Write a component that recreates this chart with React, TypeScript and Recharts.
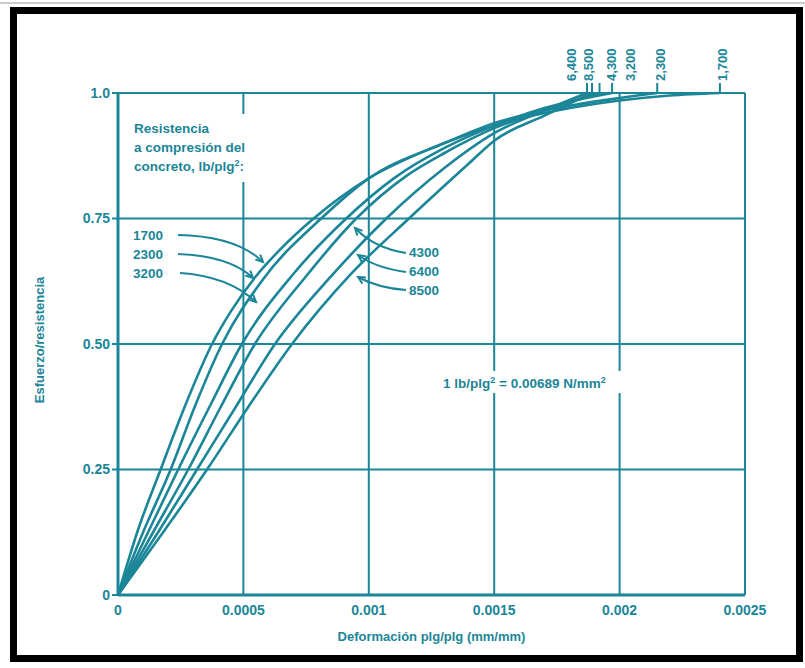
import React from 'react';
import { LineChart, Line, XAxis, YAxis, CartesianGrid, ReferenceLine } from 'recharts';

// ---- data ----
const strengths = ['1700', '2300', '3200', '4300', '6400', '8500'];
const peakLabels = ['1,700', '2,300', '3,200', '4,300', '6,400', '8,500'];

const strain1700 = [0, 0.00008, 0.00017, 0.00027, 0.000375, 0.00045, 0.00055, 0.00065, 0.00078, 0.001, 0.00125, 0.0015, 0.00175, 0.002, 0.0022, 0.0024];
const ratio1700 = [0, 0.13, 0.25, 0.38, 0.5, 0.565, 0.635, 0.69, 0.75, 0.83, 0.89, 0.935, 0.965, 0.985, 0.995, 1.0];

const strain2300 = [0, 0.0001, 0.00021, 0.00031, 0.000415, 0.00058, 0.00081, 0.001, 0.0013, 0.0015, 0.00175, 0.002, 0.00215];
const ratio2300 = [0, 0.125, 0.25, 0.38, 0.5, 0.63, 0.75, 0.83, 0.9, 0.94, 0.97, 0.99, 1.0];

const strain3200 = [0, 0.00012, 0.00024, 0.00037, 0.000494, 0.0007, 0.00091, 0.0011, 0.0013, 0.0015, 0.0017, 0.00197];
const ratio3200 = [0, 0.125, 0.25, 0.38, 0.5, 0.64, 0.75, 0.83, 0.89, 0.935, 0.97, 1.0];

const strain4300 = [0, 0.00014, 0.00028, 0.00041, 0.000546, 0.00075, 0.00095, 0.00115, 0.0013, 0.0015, 0.0017, 0.00192];
const ratio4300 = [0, 0.125, 0.25, 0.375, 0.5, 0.635, 0.75, 0.835, 0.88, 0.93, 0.965, 1.0];

const strain6400 = [0, 0.00016, 0.000315, 0.00047, 0.000626, 0.00085, 0.00107, 0.0013, 0.0015, 0.0017, 0.00187];
const ratio6400 = [0, 0.125, 0.25, 0.375, 0.5, 0.635, 0.75, 0.85, 0.92, 0.965, 1.0];

const strain8500 = [0, 0.00018, 0.000355, 0.00052, 0.000694, 0.00093, 0.00116, 0.0014, 0.0015, 0.0017, 0.00189];
const ratio8500 = [0, 0.125, 0.25, 0.375, 0.5, 0.64, 0.75, 0.86, 0.905, 0.955, 1.0];

const strainSeries = [strain1700, strain2300, strain3200, strain4300, strain6400, strain8500];
const ratioSeries = [ratio1700, ratio2300, ratio3200, ratio4300, ratio6400, ratio8500];

const xTicks = [0, 0.0005, 0.001, 0.0015, 0.002, 0.0025];
const xTickLabels = ['0', '0.0005', '0.001', '0.0015', '0.002', '0.0025'];
const yTicks = [0, 0.25, 0.5, 0.75, 1.0];
const yTickLabels = ['0', '0.25', '0.50', '0.75', '1.0'];

// ---- style ----
const C = '#1b8698';
const FONT = "'Liberation Sans', Arial, sans-serif";
const peakLabelDx = [2, 3, 18, 11, -16, -4];

const series = strengths.map((s, i) => ({
  name: s,
  data: strainSeries[i].map((x, j) => ({ x, y: ratioSeries[i][j] })),
  peak: strainSeries[i][strainSeries[i].length - 1],
}));

const fmtX = (v: number) => {
  const i = xTicks.findIndex((t) => Math.abs(t - v) < 1e-9);
  return i >= 0 ? xTickLabels[i] : String(v);
};
const fmtY = (v: number) => {
  const i = yTicks.findIndex((t) => Math.abs(t - v) < 1e-9);
  return i >= 0 ? yTickLabels[i] : String(v);
};

function Arrow({ d, hx, hy, ang }: { d: string; hx: number; hy: number; ang: number }) {
  const a = (ang * Math.PI) / 180;
  const L = 8;
  const p1x = hx - L * Math.cos(a - 0.45);
  const p1y = hy - L * Math.sin(a - 0.45);
  const p2x = hx - L * Math.cos(a + 0.45);
  const p2y = hy - L * Math.sin(a + 0.45);
  return (
    <g>
      <path d={d} fill="none" stroke={C} strokeWidth={2} />
      <polyline points={`${p1x},${p1y} ${hx},${hy} ${p2x},${p2y}`} fill="none" stroke={C} strokeWidth={2} />
    </g>
  );
}

export default function App() {
  return (
    <div style={{ position: 'absolute', left: 0, top: 0, width: 805, height: 668, background: '#fff', overflow: 'hidden' }}>
      <LineChart width={805} height={668} margin={{ top: 93, right: 60, bottom: 23, left: 58 }}>
        <CartesianGrid stroke={C} strokeWidth={2} />
        <XAxis
          type="number"
          dataKey="x"
          domain={[0, 0.0025]}
          ticks={xTicks}
          tickFormatter={fmtX}
          tickLine={false}
          tickMargin={4}
          height={50}
          axisLine={{ stroke: C, strokeWidth: 3 }}
          tick={{ fill: C, fontSize: 14, fontWeight: 700, fontFamily: FONT }}
          label={{ value: 'Deformación plg/plg (mm/mm)', position: 'insideBottom', offset: 4, fill: C, fontSize: 13, fontWeight: 700, fontFamily: FONT }}
        />
        <YAxis
          type="number"
          dataKey="y"
          domain={[0, 1]}
          ticks={yTicks}
          tickFormatter={fmtY}
          width={60}
          tickSize={6}
          tickMargin={2}
          axisLine={{ stroke: C, strokeWidth: 3 }}
          tickLine={{ stroke: C, strokeWidth: 2 }}
          tick={{ fill: C, fontSize: 14, fontWeight: 700, fontFamily: FONT }}
        />
        {series.map((s) => (
          <Line
            key={s.name}
            data={s.data}
            dataKey="y"
            type="monotone"
            stroke={C}
            strokeWidth={2.6}
            dot={false}
            isAnimationActive={false}
          />
        ))}
        {series.map((s, i) => (
          <ReferenceLine
            key={'p' + s.name}
            segment={[{ x: s.peak, y: 1 }, { x: s.peak, y: 1.02 }]}
            ifOverflow="visible"
            stroke={C}
            strokeWidth={2}
            shape={(p: any) => {
              const x1 = Number(p.x1), y1 = Number(p.y1), x2 = Number(p.x2), y2 = Number(p.y2);
              const top = Math.min(y1, y2);
              const tx = x1 + peakLabelDx[i] + 5;
              const ty = top - 2;
              return (
                <g>
                  <line x1={x1} y1={y1} x2={x2} y2={y2} stroke={C} strokeWidth={2} />
                  <text
                    x={tx}
                    y={ty}
                    transform={`rotate(-90 ${tx} ${ty})`}
                    fill={C}
                    fontSize={13}
                    fontWeight={700}
                    fontFamily={FONT}
                    textAnchor="start"
                  >
                    {peakLabels[i]}
                  </text>
                </g>
              );
            }}
          />
        ))}
      </LineChart>
      <svg width={805} height={668} style={{ position: 'absolute', left: 0, top: 0, pointerEvents: 'none' }}>
        {/* frame */}
        <line x1={0} y1={3} x2={805} y2={3} stroke="#999" strokeWidth={1} />
        <rect x={13.5} y={10.5} width={786} height={648} fill="none" stroke="#000" strokeWidth={7} />
        {/* y title */}
        <text x={44} y={340} transform="rotate(-90 44 340)" textAnchor="middle" fill={C} fontSize={13} fontWeight={700} fontFamily={FONT}>
          Esfuerzo/resistencia
        </text>
        {/* legend block */}
        <rect x={130} y={114} width={160} height={68} fill="#fff" />
        <g fill={C} fontSize={13.5} fontWeight={700} fontFamily={FONT}>
          <text x={134} y={133}>Resistencia</text>
          <text x={134} y={152}>a compresión del</text>
          <text x={134} y={171}>
            concreto, lb/plg<tspan dy={-5} fontSize={9}>2</tspan><tspan dy={5}>:</tspan>
          </text>
          <text x={133} y={240}>1700</text>
          <text x={133} y={259}>2300</text>
          <text x={133} y={278}>3200</text>
          <text x={409} y={257}>4300</text>
          <text x={409} y={276}>6400</text>
          <text x={409} y={295}>8500</text>
        </g>
        <Arrow d="M 178 235 Q 236 236 263 262" hx={263} hy={262} ang={44} />
        <Arrow d="M 178 254 Q 230 256 253 278" hx={253} hy={278} ang={44} />
        <Arrow d="M 180 273 Q 228 276 256 302" hx={256} hy={302} ang={43} />
        <Arrow d="M 406 253 Q 374 248 355 228" hx={355} hy={228} ang={-133} />
        <Arrow d="M 406 272 Q 376 268 358 255" hx={358} hy={255} ang={-145} />
        <Arrow d="M 406 290 Q 378 288 358 277" hx={358} hy={277} ang={-150} />
        {/* conversion note */}
        <rect x={440} y={371} width={234} height={22} fill="#fff" />
        <text x={443} y={388} fill={C} fontSize={13.5} fontWeight={700} fontFamily={FONT}>
          1 lb/plg<tspan dy={-5} fontSize={9}>2</tspan><tspan dy={5}> = 0.00689 N/mm</tspan><tspan dy={-5} fontSize={9}>2</tspan>
        </text>
      </svg>
    </div>
  );
}
